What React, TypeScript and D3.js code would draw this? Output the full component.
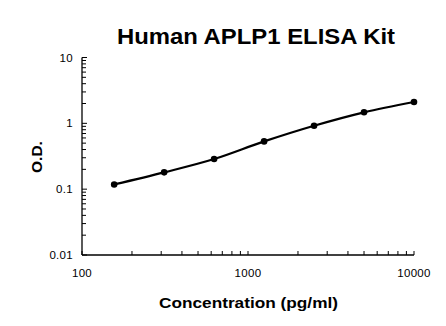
import React from "react";
import * as d3 from "d3";

const concentrations = [156.25, 312.5, 625, 1250, 2500, 5000, 10000];
const odValues = [0.118, 0.18, 0.287, 0.532, 0.92, 1.47, 2.11];
const xTickValues = [100, 1000, 10000];
const yTickValues = [0.01, 0.1, 1, 10];
const yTickLabels = ["0.01", "0.1", "1", "10"];

const W = 446, H = 326;
const L = 82, R = 414, T = 57.5, B = 255;

export default function App() {
  const x = d3.scaleLog().domain([100, 10000]).range([L, R]);
  const y = d3.scaleLog().domain([0.01, 10]).range([B, T]);
  const pts: [number, number][] = concentrations.map((c, i) => [x(c), y(odValues[i])]);
  const line = d3.line().curve(d3.curveCatmullRom.alpha(0.5))(pts) || "";

  const xMinor: number[] = [];
  for (let d = 100; d < 10000; d *= 10) for (let k = 2; k <= 9; k++) xMinor.push(d * k);
  const yMinor: number[] = [];
  for (let d = 0.01; d < 10; d *= 10) for (let k = 2; k <= 9; k++) yMinor.push(d * k);

  const font = "'Liberation Sans', Arial, sans-serif";
  return (
    <svg width={W} height={H} style={{ position: "absolute", left: 0, top: 0, background: "#fff" }} fontFamily={font}>
      <rect width={W} height={H} fill="#fff" />
      <text x={256} y={44} textAnchor="middle" fontSize={21.5} fontWeight="bold" textLength={278} lengthAdjust="spacingAndGlyphs">Human APLP1 ELISA Kit</text>
      {/* axes */}
      <line x1={L} x2={L} y1={T} y2={B} stroke="#000" strokeWidth={1.3} />
      <line x1={L} x2={R} y1={B} y2={B} stroke="#000" strokeWidth={1.3} />
      {yTickValues.map((v) => (
        <line key={"ym" + v} x1={L} x2={L + 5} y1={y(v)} y2={y(v)} stroke="#000" strokeWidth={1} />
      ))}
      {yMinor.map((v, i) => (
        <line key={"yn" + i} x1={L} x2={L + 4} y1={y(v)} y2={y(v)} stroke="#000" strokeWidth={1} />
      ))}
      {xTickValues.map((v) => (
        <line key={"xm" + v} x1={x(v)} x2={x(v)} y1={B} y2={B - 4} stroke="#000" strokeWidth={1} />
      ))}
      {xMinor.map((v, i) => (
        <line key={"xn" + i} x1={x(v)} x2={x(v)} y1={B} y2={B - 4} stroke="#000" strokeWidth={1} />
      ))}
      {yTickValues.map((v, i) => (
        <text key={"yl" + v} x={L - 9} y={y(v)} dy="0.35em" textAnchor="end" fontSize={11.5} letterSpacing={0.3}>{yTickLabels[i]}</text>
      ))}
      {xTickValues.map((v) => (
        <text key={"xl" + v} x={x(v)} y={277} textAnchor="middle" fontSize={11.5} letterSpacing={0.3}>{String(v)}</text>
      ))}
      <text x={248.5} y={308} textAnchor="middle" fontSize={15.5} fontWeight="bold" textLength={179} lengthAdjust="spacingAndGlyphs">Concentration (pg/ml)</text>
      <text transform="translate(42,157) rotate(-90)" textAnchor="middle" fontSize={15.5} fontWeight="bold">O.D.</text>
      <path d={line} fill="none" stroke="#000" strokeWidth={2.2} />
      {pts.map((p, i) => (
        <circle key={"p" + i} cx={p[0]} cy={p[1]} r={3.3} fill="#000" />
      ))}
    </svg>
  );
}
